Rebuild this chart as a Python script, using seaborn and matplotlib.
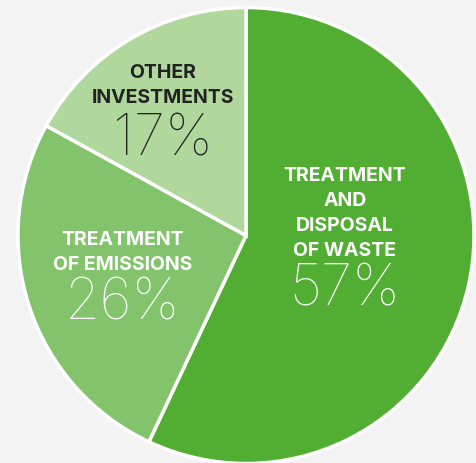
import matplotlib
matplotlib.use("Agg")
import matplotlib.pyplot as plt
import seaborn as sns

# Investment breakdown
categories = ["TREATMENT\nAND\nDISPOSAL\nOF WASTE", "TREATMENT\nOF EMISSIONS", "OTHER\nINVESTMENTS"]
shares = [57, 26, 17]
colors = ["#52ae32", "#82c36b", "#b0d79c"]
text_colors = ["white", "white", "#222222"]

sns.set_style("white")
plt.rcParams["font.family"] = ["Inter", "DejaVu Sans"]

W, H = 477, 463
fig = plt.figure(figsize=(W / 100, H / 100), dpi=100, facecolor="#f3f3f3")
ax = fig.add_axes([0, 0, 1, 1])
ax.set_facecolor("#f3f3f3")

cx, cy, r = 246, H - 235.5, 228
wedges, _ = ax.pie(
    shares, colors=colors, startangle=90, counterclock=False,
    radius=r, center=(cx, cy),
    wedgeprops=dict(edgecolor="white", linewidth=2.5),
)

# label anchors (block centre x, top y) and percentage centre y
label_pos = [(345, 167), (123, 231), (163, 64)]
pct_y = [290, 305, 140]
for lab, val, (x, y), py, tc in zip(categories, shares, label_pos, pct_y, text_colors):
    ax.text(x, H - y, lab, ha="center", va="top",
            fontsize=14, fontweight="bold", color=tc, linespacing=1.5)
    ax.text(x, H - py, f"{val}%", ha="center", va="center",
            fontsize=41, fontweight=100, color=tc)

ax.set_xlim(0, W)
ax.set_ylim(0, H)
ax.set_aspect("equal")
ax.axis("off")
fig.savefig("out.png", dpi=100, facecolor=fig.get_facecolor())
